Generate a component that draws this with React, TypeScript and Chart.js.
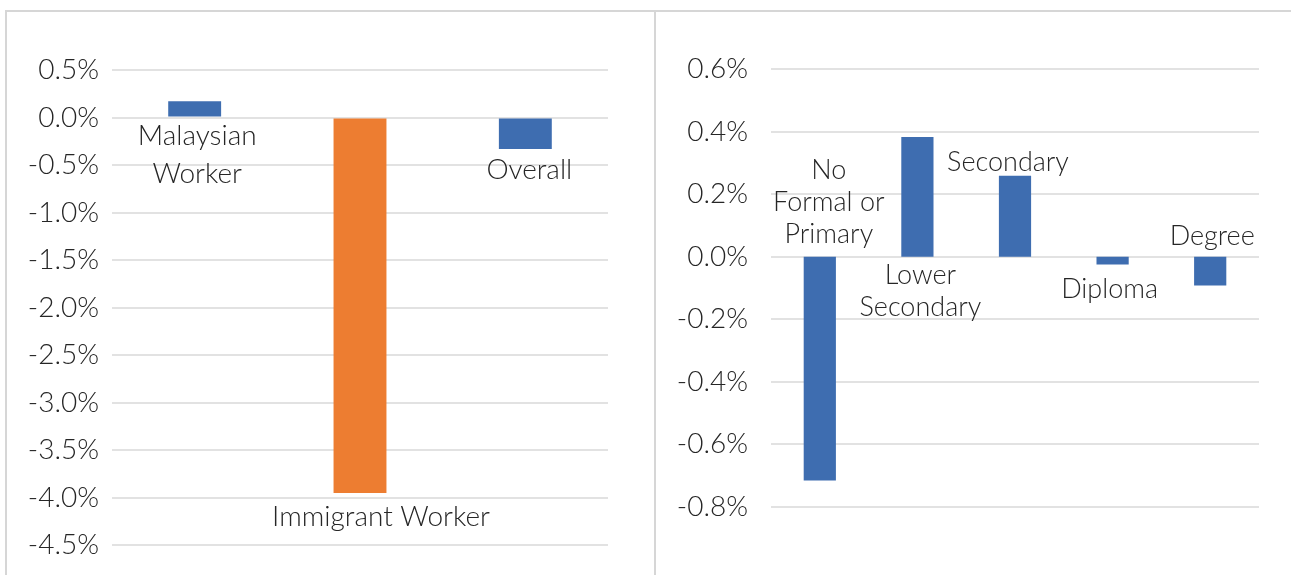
import React, { useEffect, useRef } from "react";
import { Chart, registerables } from "chart.js";

Chart.register(...registerables);

// ---------- data ----------
const leftCategories = ["Malaysian Worker", "Immigrant Worker", "Overall"];
const leftValues = [0.17, -3.95, -0.33];
const leftLabelLines = [["Malaysian", "Worker"], ["Immigrant Worker"], ["Overall"]];
const leftTicks = { min: -4.5, max: 0.5, step: 0.5 };

const rightCategories = ["No Formal or Primary", "Lower Secondary", "Secondary", "Diploma", "Degree"];
const rightValues = [-0.715, 0.383, 0.259, -0.025, -0.092];
const rightLabelLines = [["No", "Formal or", "Primary"], ["Lower", "Secondary"], ["Secondary"], ["Diploma"], ["Degree"]];
const rightTicks = { min: -0.8, max: 0.6, step: 0.2 };

// ---------- styles ----------
const BLUE = "#3e6db0";
const ORANGE = "#ed7d31";
const TEXT = "#262626";
const GRID = "#e2e2e2";
const FONT_FAMILY = "Lato, 'Open Sans', sans-serif";

type Place = { anchor: "belowZero" | "aboveZero" | "belowEnd" | "aboveEnd"; gap: number; dx: number };

const leftPlaces: Place[] = [
  { anchor: "belowZero", gap: 18, dx: 2.5 },
  { anchor: "belowEnd", gap: 24, dx: 21 },
  { anchor: "belowEnd", gap: 21, dx: 4 },
];
const rightPlaces: Place[] = [
  { anchor: "aboveZero", gap: 22, dx: 9 },
  { anchor: "belowZero", gap: 19, dx: 3 },
  { anchor: "aboveEnd", gap: 13, dx: -7 },
  { anchor: "belowEnd", gap: 25, dx: -3 },
  { anchor: "aboveZero", gap: 20, dx: 2 },
];

const barLabelPlugin = {
  id: "barLabels",
  afterDatasetsDraw(chart: any, _args: any, opts: any) {
    const { ctx } = chart;
    const y = chart.scales.y;
    const meta = chart.getDatasetMeta(0);
    const zeroY = y.getPixelForValue(0);
    ctx.save();
    ctx.font = `300 ${opts.fontSize}px ${FONT_FAMILY}`;
    ctx.fillStyle = TEXT;
    ctx.textAlign = "center";
    ctx.textBaseline = "middle";
    meta.data.forEach((bar: any, i: number) => {
      const lines: string[] = opts.lines[i];
      const place: Place = opts.places[i];
      const lh = opts.lineHeight;
      const n = lines.length;
      let firstY = 0;
      if (place.anchor === "belowZero") firstY = zeroY + place.gap;
      else if (place.anchor === "aboveZero") firstY = zeroY - place.gap - (n - 1) * lh;
      else if (place.anchor === "belowEnd") firstY = bar.y + place.gap;
      else firstY = bar.y - place.gap - (n - 1) * lh;
      lines.forEach((t, k) => ctx.fillText(t, bar.x + place.dx, firstY + k * lh));
    });
    ctx.restore();
  },
};

function makeConfig(opts: {
  categories: string[];
  values: number[];
  colors: string[];
  ticks: { min: number; max: number; step: number };
  axisWidth: number;
  tickPadding: number;
  padding: { top: number; right: number; bottom: number };
  barPct: number;
  lines: string[][];
  places: Place[];
  lineHeight: number;
  labelSize: number;
}): any {
  return {
    type: "bar",
    data: {
      labels: opts.categories,
      datasets: [
        {
          data: opts.values,
          backgroundColor: opts.colors,
          borderWidth: 0,
          barPercentage: opts.barPct,
          categoryPercentage: 1,
        },
      ],
    },
    options: {
      animation: false,
      responsive: false,
      devicePixelRatio: 1,
      layout: { padding: { left: 0, top: opts.padding.top, right: opts.padding.right, bottom: opts.padding.bottom } },
      plugins: {
        legend: { display: false },
        tooltip: { enabled: false },
        barLabels: {
          lines: opts.lines,
          places: opts.places,
          lineHeight: opts.lineHeight,
          fontSize: opts.labelSize,
        },
      },
      scales: {
        x: { display: false },
        y: {
          min: opts.ticks.min,
          max: opts.ticks.max,
          afterFit: (scale: any) => {
            scale.width = opts.axisWidth;
          },
          border: { display: false },
          grid: { color: GRID, lineWidth: 2, drawTicks: false },
          ticks: {
            stepSize: opts.ticks.step,
            padding: opts.tickPadding,
            color: TEXT,
            font: { family: FONT_FAMILY, size: 28, weight: 300 },
            callback: (v: any) => {
              const n = Math.round(Number(v) * 10) / 10;
              return (n === 0 ? "0.0" : n.toFixed(1)) + "%";
            },
          },
        },
      },
    },
    plugins: [barLabelPlugin],
  };
}

function ChartCanvas({ config, width, height, style }: { config: any; width: number; height: number; style: any }) {
  const ref = useRef<HTMLCanvasElement | null>(null);
  useEffect(() => {
    if (!ref.current) return;
    const chart = new Chart(ref.current, config);
    return () => chart.destroy();
  }, []);
  return <canvas ref={ref} width={width} height={height} style={{ position: "absolute", width, height, ...style }} />;
}

export default function App() {
  const leftConfig = makeConfig({
    categories: leftCategories,
    values: leftValues,
    colors: [BLUE, ORANGE, BLUE],
    ticks: leftTicks,
    axisWidth: 112,
    tickPadding: 13,
    padding: { top: 70, right: 47, bottom: 27 },
    barPct: 0.32,
    lines: leftLabelLines,
    places: leftPlaces,
    lineHeight: 38,
    labelSize: 28,
  });
  const rightConfig = makeConfig({
    categories: rightCategories,
    values: rightValues,
    colors: rightValues.map(() => BLUE),
    ticks: rightTicks,
    axisWidth: 116,
    tickPadding: 23,
    padding: { top: 69, right: 32, bottom: 68 },
    barPct: 0.33,
    lines: rightLabelLines,
    places: rightPlaces,
    lineHeight: 32,
    labelSize: 27,
  });
  const line = "#d6d6d6";
  return (
    <div style={{ position: "absolute", left: 0, top: 0, width: 1291, height: 575, overflow: "hidden", background: "#fff" }}>
      <ChartCanvas config={leftConfig} width={655} height={575} style={{ left: 0, top: 0 }} />
      <ChartCanvas config={rightConfig} width={636} height={575} style={{ left: 655, top: 0 }} />
      <div style={{ position: "absolute", left: 5, top: 10, width: 1286, height: 2, background: line }} />
      <div style={{ position: "absolute", left: 5, top: 10, width: 2, height: 565, background: line }} />
      <div style={{ position: "absolute", left: 654, top: 10, width: 2, height: 565, background: line }} />
    </div>
  );
}
